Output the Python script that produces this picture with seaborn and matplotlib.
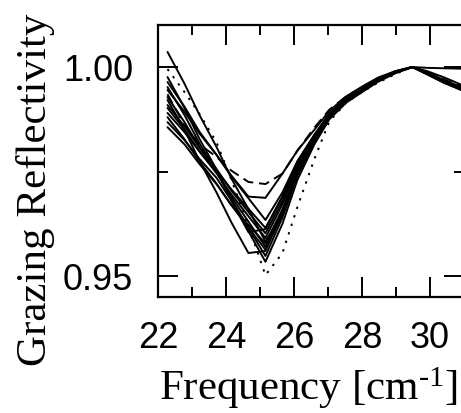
import matplotlib
matplotlib.use("Agg")
import matplotlib.pyplot as plt
import seaborn as sns

# frequency samples (cm^-1)
freq = [22.28, 22.78, 23.22, 23.72, 24.16, 24.66, 25.16, 25.66, 26.10, 26.60,
        27.04, 27.54, 28.04, 28.48, 28.98, 29.48, 29.92, 30.42, 30.91]

# grazing reflectivity curves (solid)
solid_curves = [
    [1.0036, 0.9960, 0.9885, 0.9809, 0.9733, 0.9660, 0.9582, 0.9650, 0.9745, 0.9830,
     0.9885, 0.9925, 0.9950, 0.9972, 0.9990, 1.0000, 0.9990, 0.9975, 0.9958],
    [0.9976, 0.9902, 0.9828, 0.9755, 0.9681, 0.9607, 0.9534, 0.9625, 0.9730, 0.9815,
     0.9875, 0.9915, 0.9942, 0.9965, 0.9985, 1.0000, 0.9982, 0.9962, 0.9948],
    [0.9964, 0.9905, 0.9845, 0.9790, 0.9740, 0.9690, 0.9687, 0.9745, 0.9800, 0.9850,
     0.9895, 0.9930, 0.9955, 0.9975, 0.9990, 1.0000, 0.9985, 0.9968, 0.9952],
    [0.9952, 0.9885, 0.9817, 0.9750, 0.9683, 0.9615, 0.9548, 0.9640, 0.9740, 0.9820,
     0.9878, 0.9918, 0.9945, 0.9967, 0.9986, 1.0000, 0.9983, 0.9963, 0.9946],
    [0.9945, 0.9893, 0.9841, 0.9790, 0.9738, 0.9686, 0.9634, 0.9700, 0.9775, 0.9838,
     0.9885, 0.9922, 0.9948, 0.9970, 0.9988, 1.0000, 0.9986, 0.9966, 0.9950],
    [0.9928, 0.9868, 0.9808, 0.9749, 0.9689, 0.9630, 0.9570, 0.9650, 0.9748, 0.9826,
     0.9882, 0.9920, 0.9947, 0.9968, 0.9987, 1.0000, 0.9984, 0.9964, 0.9947],
    [0.9921, 0.9850, 0.9775, 0.9700, 0.9628, 0.9555, 0.9560, 0.9655, 0.9752, 0.9828,
     0.9883, 0.9921, 0.9947, 0.9968, 0.9987, 1.0000, 0.9985, 0.9965, 0.9948],
    [0.9909, 0.9858, 0.9807, 0.9756, 0.9704, 0.9653, 0.9602, 0.9680, 0.9765, 0.9833,
     0.9886, 0.9923, 0.9948, 0.9969, 0.9988, 1.0000, 0.9987, 0.9967, 0.9950],
    [0.9902, 0.9850, 0.9798, 0.9746, 0.9695, 0.9643, 0.9591, 0.9672, 0.9760, 0.9830,
     0.9884, 0.9922, 0.9948, 0.9969, 0.9988, 1.0000, 0.9998, 0.9997, 0.9996],
    [0.9890, 0.9844, 0.9798, 0.9752, 0.9707, 0.9661, 0.9615, 0.9690, 0.9770, 0.9836,
     0.9888, 0.9924, 0.9949, 0.9970, 0.9988, 1.0000, 0.9986, 0.9966, 0.9950],
    [0.9880, 0.9827, 0.9774, 0.9721, 0.9669, 0.9616, 0.9563, 0.9648, 0.9745, 0.9824,
     0.9880, 0.9919, 0.9946, 0.9968, 0.9987, 1.0000, 0.9983, 0.9962, 0.9945],
    [0.9868, 0.9825, 0.9780, 0.9735, 0.9680, 0.9605, 0.9612, 0.9690, 0.9772, 0.9838,
     0.9889, 0.9925, 0.9950, 0.9971, 0.9989, 1.0000, 0.9987, 0.9968, 0.9952],
    [0.9856, 0.9815, 0.9768, 0.9720, 0.9670, 0.9622, 0.9578, 0.9660, 0.9752, 0.9829,
     0.9884, 0.9921, 0.9947, 0.9968, 0.9987, 1.0000, 0.9985, 0.9964, 0.9947],
]

dashed_curve = [0.9935, 0.9860, 0.9815, 0.9785, 0.9752, 0.9725, 0.9720, 0.9745, 0.9800, 0.9855,
                0.9898, 0.9930, 0.9953, 0.9972, 0.9988, 1.0000, 0.9988, 0.9970, 0.9955]

dotted_curve = [0.9995, 0.9940, 0.9888, 0.9820, 0.9730, 0.9620, 0.9502, 0.9555, 0.9665, 0.9780,
                0.9870, 0.9915, 0.9942, 0.9963, 0.9983, 1.0000, 0.9985, 0.9965, 0.9950]

x_major = [22, 24, 26, 28, 30]
x_minor = [23, 25, 27, 29, 31]
y_major = [0.95, 1.00]
y_minor = [0.975]

sns.set_style("ticks")
plt.rcParams['font.family'] = ['Liberation Sans', 'DejaVu Sans']
plt.rcParams['mathtext.fontset'] = 'custom'
plt.rcParams['mathtext.rm'] = 'Liberation Serif'
plt.rcParams['mathtext.it'] = 'Liberation Serif:italic'
plt.rcParams['text.color'] = 'black'
plt.rcParams['axes.labelcolor'] = 'black'
plt.rcParams['xtick.color'] = 'black'
plt.rcParams['ytick.color'] = 'black'

fig = plt.figure(figsize=(4.61, 4.13), dpi=100)
ax = fig.add_axes([158 / 461, 116 / 413, 306 / 461, 272 / 413])

lw = 1.4
for curve in solid_curves:
    sns.lineplot(x=freq, y=curve, color='black', linewidth=lw, ax=ax, legend=False)
sns.lineplot(x=freq, y=dashed_curve, color='black', linewidth=lw, ax=ax,
             linestyle=(0, (5.5, 3.0)), legend=False)
sns.lineplot(x=freq, y=dotted_curve, color='black', linewidth=lw, ax=ax,
             linestyle=(0, (1.2, 3.4)), legend=False)

ax.set_xlim(22, 31)
ax.set_ylim(0.94498, 1.01005)
ax.set_xticks(x_major)
ax.set_xticks(x_minor, minor=True)
ax.set_yticks(y_major)
ax.set_yticks(y_minor, minor=True)
ax.set_yticklabels([f"{v:.2f}" for v in y_major])

for side in ax.spines.values():
    side.set_linewidth(1.6)
    side.set_color('black')

ax.tick_params(which='both', direction='in', top=True, right=True,
               color='black', width=1.4, labelsize=26, labelcolor='black')
ax.tick_params(which='major', length=14.4)
ax.tick_params(which='minor', length=7.2)
ax.tick_params(axis='x', pad=17)
ax.tick_params(axis='y', pad=18)

ax.set_xlabel(r"Frequency [cm$^{\text{-1}}$]", family='Liberation Serif', fontsize=31)
ax.set_ylabel("Grazing Reflectivity", family='Liberation Serif', fontsize=31)
ax.xaxis.set_label_coords(0.49, -0.25)
ax.yaxis.set_label_coords(-0.335, 0.393)

fig.savefig("out.png", dpi=100)
